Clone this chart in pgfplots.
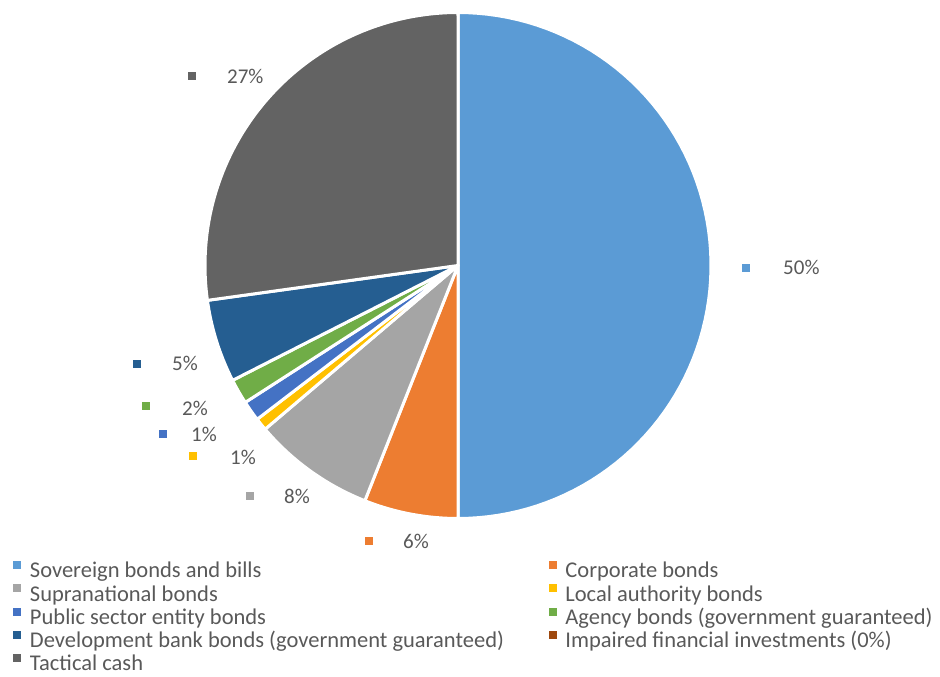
\documentclass[border=0pt]{standalone}
\usepackage{pgfplots}
\pgfplotsset{compat=1.18}
\usepackage{fontspec}
\setmainfont{Carlito}
\definecolor{sov}{HTML}{5B9BD5}
\definecolor{cor}{HTML}{ED7D31}
\definecolor{sup}{HTML}{A5A5A5}
\definecolor{loc}{HTML}{FFC000}
\definecolor{pub}{HTML}{4472C4}
\definecolor{age}{HTML}{70AD47}
\definecolor{dev}{HTML}{255E91}
\definecolor{imp}{HTML}{9E480E}
\definecolor{tac}{HTML}{636363}
\definecolor{txt}{HTML}{595959}
% slice shares (percent), cumulative start and end
% Sovereign 50, Corporate 6, Supranational 7.8, Local 0.8, Public 1.3, Agency 1.6, Development 5.3, Impaired 0, Tactical 27.2
\newcommand{\cx}{458}
\newcommand{\cy}{407.5}
\newcommand{\rr}{253}
\newcommand{\lab}[6]{% marker left x, baseline y (px from top), raise, gap, colour, text
  \node[anchor=base west, inner sep=0pt, text=txt, font=\fontsize{21}{25}\selectfont]
    at (axis cs:#1,673-#2) {\textcolor{#5}{\rule[#3pt]{8pt}{8pt}}\hspace{#4pt}#6};}
\begin{document}
\begin{tikzpicture}
\begin{axis}[
  width=940pt, height=673pt, scale only axis,
  xmin=0, xmax=940, ymin=0, ymax=673,
  axis line style={draw=none}, xtick=\empty, ytick=\empty,
  clip=false,
  legend columns=2,
  legend cell align=left,
  legend image code/.code={\fill[#1, draw=none] (0pt,3.2pt) rectangle (8pt,11.2pt); \path (15pt,5pt);},
  legend style={at={(0.01415,0.1669)}, anchor=north west, draw=none, fill=none,
    inner sep=0pt, row sep=0pt, column sep=0pt, text=txt,
    font=\fontsize{22.5}{27}\selectfont,
    nodes={inner sep=0pt, text height=17pt, text depth=6.2pt},
    /tikz/every even column/.append style={column sep=45pt}},
]
\path (axis cs:0,0) rectangle (axis cs:940,673);
\pgfplotsset{slice/.style={fill=#1, draw=white, line width=3pt, line join=round, samples=80}}
\addplot[slice=sov, domain=0:50]     ({\cx+\rr*sin(3.6*x)},{\cy+\rr*cos(3.6*x)}) -- (axis cs:\cx,\cy) -- cycle;
\addlegendentry{Sovereign bonds and bills}
\addplot[slice=cor, domain=50:56]    ({\cx+\rr*sin(3.6*x)},{\cy+\rr*cos(3.6*x)}) -- (axis cs:\cx,\cy) -- cycle;
\addlegendentry{Corporate bonds}
\addplot[slice=sup, domain=56:63.8]  ({\cx+\rr*sin(3.6*x)},{\cy+\rr*cos(3.6*x)}) -- (axis cs:\cx,\cy) -- cycle;
\addlegendentry{Supranational bonds}
\addplot[slice=loc, domain=63.8:64.6] ({\cx+\rr*sin(3.6*x)},{\cy+\rr*cos(3.6*x)}) -- (axis cs:\cx,\cy) -- cycle;
\addlegendentry{Local authority bonds}
\addplot[slice=pub, domain=64.6:65.9] ({\cx+\rr*sin(3.6*x)},{\cy+\rr*cos(3.6*x)}) -- (axis cs:\cx,\cy) -- cycle;
\addlegendentry{Public sector entity bonds}
\addplot[slice=age, domain=65.9:67.5] ({\cx+\rr*sin(3.6*x)},{\cy+\rr*cos(3.6*x)}) -- (axis cs:\cx,\cy) -- cycle;
\addlegendentry{Agency bonds (government guaranteed)}
\addplot[slice=dev, domain=67.5:72.8] ({\cx+\rr*sin(3.6*x)},{\cy+\rr*cos(3.6*x)}) -- (axis cs:\cx,\cy) -- cycle;
\addlegendentry{Development bank bonds (government guaranteed)}
\addlegendimage{fill=imp}
\addlegendentry{Impaired financial investments (0\%)}
\addplot[slice=tac, domain=72.8:100] ({\cx+\rr*sin(3.6*x)},{\cy+\rr*cos(3.6*x)}) -- (axis cs:\cx,\cy) -- cycle;
\addlegendentry{Tactical cash}
\lab{742}{274.6}{2.6}{33}{sov}{50\%}
\lab{365}{548.3}{3.3}{30}{cor}{6\%}
\lab{246}{503.3}{3.8}{30}{sup}{8\%}
\lab{189}{464.6}{4.6}{33}{loc}{1\%}
\lab{159}{441.6}{3.1}{24}{pub}{1\%}
\lab{142}{415.6}{5.6}{32}{age}{2\%}
\lab{133}{370.6}{2.6}{31}{dev}{5\%}
\lab{188}{83.6}{3.1}{31}{tac}{27\%}
\end{axis}
\end{tikzpicture}
\end{document}
